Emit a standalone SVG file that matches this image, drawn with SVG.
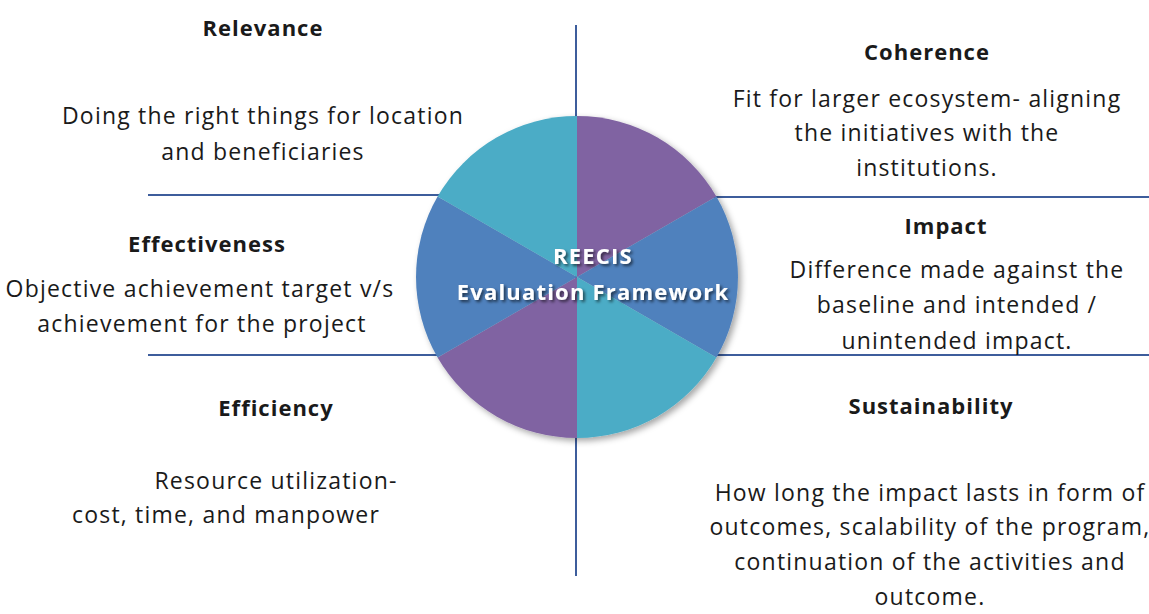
<svg xmlns="http://www.w3.org/2000/svg" width="1149" height="614" viewBox="0 0 1149 614">
  <defs>
    <style>
      .axis { stroke: #3d5d9c; stroke-width: 2; fill: none; }
      .title { font-family: "Open Sans", Lato, "Liberation Sans", sans-serif; font-weight: bold; font-size: 22px; letter-spacing: 1px; fill: #1a1a1a; text-anchor: middle; }
      .body { font-family: "Open Sans", Lato, "Liberation Sans", sans-serif; font-size: 23px; letter-spacing: 1.2px; fill: #1a1a1a; text-anchor: middle; }
      .hub { font-family: "Open Sans", Lato, "Liberation Sans", sans-serif; font-weight: bold; font-size: 22px; letter-spacing: 1.2px; fill: #ffffff; text-anchor: middle; }
      .teal { fill: #4bacc6; }
      .purple { fill: #8064a2; }
      .blue { fill: #4f81bd; }
    </style>
    <filter id="dropShadow" x="-20%" y="-20%" width="140%" height="140%">
      <feGaussianBlur in="SourceAlpha" stdDeviation="3"/>
      <feOffset dx="3" dy="3" result="blur"/>
      <feFlood flood-color="#000" flood-opacity="0.35"/>
      <feComposite in2="blur" operator="in"/>
      <feMerge><feMergeNode/><feMergeNode in="SourceGraphic"/></feMerge>
    </filter>
    <filter id="textShadow" x="-10%" y="-30%" width="120%" height="160%">
      <feGaussianBlur in="SourceAlpha" stdDeviation="1.5"/>
      <feOffset dx="1.5" dy="1.5" result="blur"/>
      <feFlood flood-color="#000" flood-opacity="0.6"/>
      <feComposite in2="blur" operator="in"/>
      <feMerge><feMergeNode/><feMergeNode in="SourceGraphic"/></feMerge>
    </filter>
  </defs>
  <rect width="1149" height="614" fill="#ffffff"/>

  <!-- quadrant axes -->
  <g id="connectors">
    <line class="axis" x1="576" y1="25" x2="576" y2="576"/>
    <line class="axis" x1="148" y1="195" x2="440" y2="195"/>
    <line class="axis" x1="714" y1="197" x2="1149" y2="197"/>
    <line class="axis" x1="148" y1="355" x2="440" y2="355"/>
    <line class="axis" x1="714" y1="355" x2="1149" y2="355"/>
  </g>

  <!-- six-segment hub, centre (577,277), r 161 -->
  <g id="hub" filter="url(#dropShadow)">
    <path class="purple" d="M577,277 L577,116 A161,161 0 0 1 716.4,196.5 Z"/>
    <path class="blue" d="M577,277 L716.4,196.5 A161,161 0 0 1 716.4,357.5 Z"/>
    <path class="teal" d="M577,277 L716.4,357.5 A161,161 0 0 1 577,438 Z"/>
    <path class="purple" d="M577,277 L577,438 A161,161 0 0 1 437.6,357.5 Z"/>
    <path class="blue" d="M577,277 L437.6,357.5 A161,161 0 0 1 437.6,196.5 Z"/>
    <path class="teal" d="M577,277 L437.6,196.5 A161,161 0 0 1 577,116 Z"/>
  </g>
  <g id="hub-label" filter="url(#textShadow)">
    <text class="hub" x="593" y="264">REECIS</text>
    <text class="hub" x="593" y="300">Evaluation Framework</text>
  </g>

  <g id="relevance">
    <text class="title" x="263" y="36">Relevance</text>
    <text class="body" x="263" y="124">Doing the right things for location</text>
    <text class="body" x="263" y="160">and beneficiaries</text>
  </g>

  <g id="coherence">
    <text class="title" x="927" y="60">Coherence</text>
    <text class="body" x="927" y="107">Fit for larger ecosystem- aligning</text>
    <text class="body" x="927" y="141">the initiatives with the</text>
    <text class="body" x="927" y="176">institutions.</text>
  </g>

  <g id="effectiveness">
    <text class="title" x="207" y="252">Effectiveness</text>
    <text class="body" x="200" y="297">Objective achievement target v/s</text>
    <text class="body" x="202" y="332">achievement for the project</text>
  </g>

  <g id="impact">
    <text class="title" x="946" y="234">Impact</text>
    <text class="body" x="957" y="278">Difference made against the</text>
    <text class="body" x="957" y="313">baseline and intended /</text>
    <text class="body" x="957" y="349">unintended impact.</text>
  </g>

  <g id="efficiency">
    <text class="title" x="276" y="416">Efficiency</text>
    <text class="body" x="276" y="489">Resource utilization-</text>
    <text class="body" x="226" y="523">cost, time, and manpower</text>
  </g>

  <g id="sustainability">
    <text class="title" x="931" y="414">Sustainability</text>
    <text class="body" x="930" y="501">How long the impact lasts in form of</text>
    <text class="body" x="930" y="535">outcomes, scalability of the program,</text>
    <text class="body" x="930" y="570">continuation of the activities and</text>
    <text class="body" x="930" y="605">outcome.</text>
  </g>
</svg>
